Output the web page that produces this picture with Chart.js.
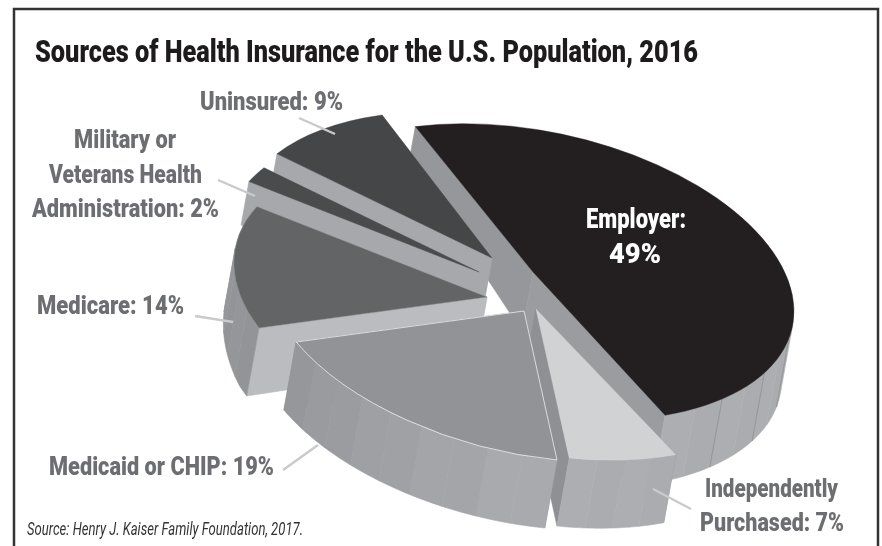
<!DOCTYPE html>
<html><head><meta charset="utf-8">
<style>html,body{margin:0;padding:0;background:#fff}#w{width:882px;height:546px}canvas{display:block}</style>
<script src="https://cdn.jsdelivr.net/npm/chart.js@4"></script></head>
<body><div id="w"><canvas id="c" width="882" height="546"></canvas></div>
<script>
const categories = ['Employer','Independently Purchased','Medicaid or CHIP','Medicare','Military or Veterans Health Administration','Uninsured'];
const shares = [49,7,19,14,2,9];
const topColors = ['#231f20','#d1d2d4','#929396','#636466','#4a4b4d','#454648'];
const cutColors = ['#96979a','#8f9093','#8f9093','#bbbcbf','#a7a8ab','#a7a8ab'];
const borderColors = ['#231f20','#d1d2d4','#e6e7e8','#8a8b8e','#4a4b4d','#454648'];
const drawOrder = [0,5,4,3,1,2];
// Perspective view of the pie: rim(t) = rimUp*cos t + rimRight*sin t, nearer rim swollen by frontSwell
const pivot = [515,285], rimUp = [-110,-143], rimRight = [228,-31], frontSwell = [16,5];
// Explosion of each slice on screen
const explode = [[18,-13],[21,24],[9,26],[-28,12],[-36,-13],[-23,-27]];
const FONT = "'Roboto',sans-serif";
const GREY = '#6d6e71';
const texts = [
 ['Sources of Health Insurance for the U.S. Population, 2016',35,698,62,'900 32px','#1d1b1c'],
 ['Uninsured: 9%',200,343,110,'900 25px',GREY],
 ['Military or',74,176,148,'900 25px',GREY],
 ['Veterans Health',49,202,183,'900 25px',GREY],
 ['Administration: 2%',32,219,217,'900 25px',GREY],
 ['Medicare: 14%',37,184,314,'900 25px',GREY],
 ['Medicaid or CHIP: 19%',49,274,475,'900 25px',GREY],
 ['Independently',705,838,497,'900 25px',GREY],
 ['Purchased: 7%',700,844,531,'900 25px',GREY],
 ['Employer:',586,686,228,'900 27px','#ffffff'],
 ['49%',609,661,263,'900 27px','#ffffff'],
 ['Source: Henry J. Kaiser Family Foundation, 2017.',27,303,535,'italic 19px','#333333']
];
const leaders = [[299,118,335,134],[218,180,255,196],[195,316,233,322],[283,470,318,445],[653,489,691,509]];

function depthOf(y){ return Math.min(68, 34 + Math.max(0,y-129)*0.18); }
function shade(t){ return t>=270 ? 148 : t>=200 ? 172-(t-200)*0.32 : 172; }
function rimAt(a){ // a = canvas angle of the arc
  const t=a+Math.PI/2, f=Math.max(0,-Math.cos(t));
  return [rimUp[0]*Math.cos(t)+rimRight[0]*Math.sin(t)+frontSwell[0]*f, rimUp[1]*Math.cos(t)+rimRight[1]*Math.sin(t)+frontSwell[1]*f];
}
function sliceMatrix(a0,a1){ // least-squares affine for one slice, unit pie -> screen
  const lam=0.03;
  let s11=lam,s12=0,s22=lam;
  let t=[[rimRight[0]*lam,-rimUp[0]*lam],[rimRight[1]*lam,-rimUp[1]*lam]];
  for(let k=0;k<=8;k++){
    const a=a0+(a1-a0)*k/8,u=Math.cos(a),v=Math.sin(a),r=rimAt(a);
    s11+=u*u;s12+=u*v;s22+=v*v;
    t[0][0]+=r[0]*u;t[0][1]+=r[0]*v;t[1][0]+=r[1]*u;t[1][1]+=r[1]*v;
  }
  const det=s11*s22-s12*s12;
  const i11=s22/det,i12=-s12/det,i22=s11/det;
  return [t[0][0]*i11+t[0][1]*i12,t[1][0]*i11+t[1][1]*i12,t[0][0]*i12+t[0][1]*i22,t[1][0]*i12+t[1][1]*i22];
}
const pie3d = {
  id:'pie3d',
  beforeDraw(chart){
    const x = chart.ctx;
    x.save(); x.fillStyle='#fff'; x.fillRect(0,0,882,546);
    x.strokeStyle='#333335'; x.lineWidth=2.5; x.strokeRect(14,9,864,620); x.restore();
  },
  beforeDatasetsDraw(chart){
    const ctx = chart.ctx, arcs = chart.getDatasetMeta(0).data;
    const R = arcs[0].outerRadius;
    drawOrder.forEach(i=>{
      const el = arcs[i], sx = pivot[0]+explode[i][0], sy = pivot[1]+explode[i][1];
      const M = sliceMatrix(el.startAngle,el.endAngle);
      const proj = a => { const u=Math.cos(a), v=Math.sin(a);
        return [sx+u*M[0]+v*M[2], sy+u*M[1]+v*M[3]]; };
      const down = p => { const d=depthOf(p[1]); return [p[0]-d*0.18, p[1]+d]; };
      const poly = (pts,fill)=>{ ctx.beginPath(); pts.forEach((p,j)=>j?ctx.lineTo(p[0],p[1]):ctx.moveTo(p[0],p[1])); ctx.closePath();
        ctx.fillStyle=fill; ctx.strokeStyle=fill; ctx.lineWidth=0.6; ctx.fill(); ctx.stroke(); };
      const apex=[sx,sy];
      const cut = (a,fill)=>{const q=proj(a); poly([apex,q,down(q),down(apex)],fill);};
      cut(el.startAngle,cutColors[i]);
      cut(el.endAngle,i===0?'#9b9c9f':cutColors[i]);
      // rim facets (only those that face the viewer)
      const span=el.endAngle-el.startAngle, n=Math.max(1,Math.ceil(span/(Math.PI/22)));
      for(let k=0;k<n;k++){
        const a0=el.startAngle+span*k/n, a1=el.startAngle+span*(k+1)/n;
        const tdeg=((a0+a1)/2+Math.PI/2)*180/Math.PI;
        const g=Math.round(shade(tdeg)+(k%2?1:-1));
        const m=8, run=[];
        for(let j=0;j<m;j++){
          const p=proj(a0+(a1-a0)*j/m), q=proj(a0+(a1-a0)*(j+1)/m);
          const dx=q[0]-p[0], dy=q[1]-p[1], mx=(p[0]+q[0])/2-sx, my=(p[1]+q[1])/2-sy;
          let nx=dy, ny=-dx; if(nx*mx+ny*my<0){nx=-nx;ny=-ny;}
          if(nx*(-0.18)+ny>0){ if(!run.length) run.push(p); run.push(q); }
        }
        if(run.length>1){
          poly(run.concat(run.map(down).reverse()),`rgb(${g},${g+1},${g+4})`);
          if(i===0 && k%2===0){
            const p=run[0],Q=down(p);
            ctx.beginPath();ctx.moveTo(p[0],p[1]);ctx.lineTo(Q[0],Q[1]);ctx.strokeStyle='#77787b';ctx.lineWidth=0.5;ctx.stroke();
          }
        }
      }
      // top face: the library's own arc under the projection
      ctx.save();
      ctx.translate(sx,sy);
      ctx.transform(M[0]/R,M[1]/R,M[2]/R,M[3]/R,0,0);
      ctx.translate(-el.x,-el.y);
      el.draw(ctx);
      ctx.restore();
    });
    return false;
  },
  afterDraw(chart){
    const x=chart.ctx; x.save();
    x.strokeStyle='#c9cacc'; x.lineWidth=2.4;
    leaders.forEach(l=>{x.beginPath();x.moveTo(l[0],l[1]);x.lineTo(l[2],l[3]);x.stroke();});
    x.textBaseline='alphabetic'; x.textAlign='left';
    texts.forEach(t=>{
      x.save(); x.font=t[4]+' '+FONT; x.fillStyle=t[5];
      const w=x.measureText(t[0]).width;
      x.translate(t[1],t[3]); x.scale((t[2]-t[1])/w,1); x.fillText(t[0],0,0); x.restore();
    });
    x.restore();
  }
};
new Chart(document.getElementById('c'),{
  type:'pie',
  data:{labels:categories,datasets:[{data:shares,backgroundColor:topColors,borderColor:borderColors,borderWidth:[0.5,0.5,1,0.6,0.5,0.5]}]},
  options:{responsive:false,animation:false,rotation:0,
    layout:{padding:10},
    plugins:{legend:{display:false},tooltip:{enabled:false},title:{display:false}}},
  plugins:[pie3d]
});
</script></body></html>
